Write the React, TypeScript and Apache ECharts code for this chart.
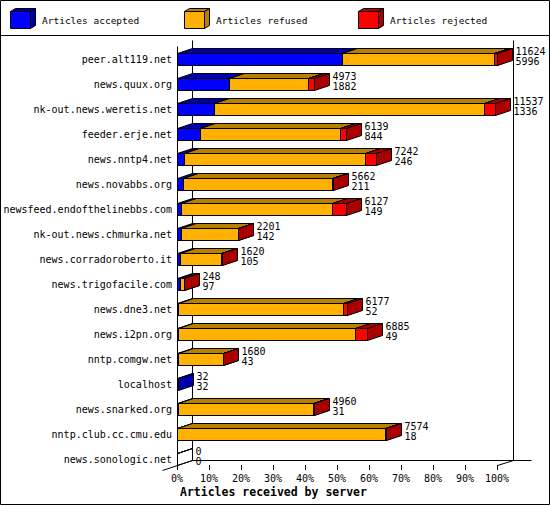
import React, { useEffect, useRef } from "react";
import * as echarts from "echarts";

const servers = [
  "peer.alt119.net",
  "news.quux.org",
  "nk-out.news.weretis.net",
  "feeder.erje.net",
  "news.nntp4.net",
  "news.novabbs.org",
  "newsfeed.endofthelinebbs.com",
  "nk-out.news.chmurka.net",
  "news.corradoroberto.it",
  "news.trigofacile.com",
  "news.dne3.net",
  "news.i2pn.org",
  "nntp.comgw.net",
  "localhost",
  "news.snarked.org",
  "nntp.club.cc.cmu.edu",
  "news.sonologic.net",
];
const offered = [11624, 4973, 11537, 6139, 7242, 5662, 6127, 2201, 1620, 248, 6177, 6885, 1680, 32, 4960, 7574, 0];
const accepted = [5996, 1882, 1336, 844, 246, 211, 149, 142, 105, 97, 52, 49, 43, 32, 31, 18, 0];
const refused = [5520, 2873, 9831, 5065, 6596, 5431, 5470, 2056, 1485, 149, 5980, 6425, 1632, 0, 4904, 7551, 0];
const rejected = [108, 218, 370, 230, 400, 20, 508, 3, 30, 2, 145, 411, 5, 0, 25, 5, 0];

const seriesNames = ["Articles accepted", "Articles refused", "Articles rejected"];
const frontColors = ["#0000ff", "#ffb000", "#ff0000"];
const darkColors = ["#0000aa", "#b88000", "#aa0000"];
const axisTitle = "Articles received by server";

const FONT = "'DejaVu Sans Mono', monospace";
const DX = 15;
const DY = 5;
const HALF = 6;

const px = (v: number) => Math.round(v) + 0.5;

export default function App() {
  const ref = useRef<HTMLDivElement>(null);

  useEffect(() => {
    if (!ref.current) return;
    const chart = echarts.init(ref.current, undefined, { renderer: "svg" });
    const parts = [accepted, refused, rejected];
    const maxOffered = Math.max(...offered);
    const last = parts.length - 1;

    const segData = parts.map((arr, k) =>
      arr.map((v, i) => {
        let start = 0;
        for (let j = 0; j < k; j++) start += parts[j][i];
        return [(start / maxOffered) * 100, ((start + v) / maxOffered) * 100, i];
      })
    );

    const stroke = { stroke: "#000", lineWidth: 1 };

    const makeRender = (k: number) => (_params: any, api: any) => {
      const i = api.value(2);
      const s = api.coord([api.value(0), i]);
      const e = api.coord([api.value(1), i]);
      const x1 = px(s[0]);
      const x2 = px(e[0]);
      const yc = Math.round(s[1]);
      const yt = yc - HALF + 0.5;
      const yb = yc + HALF + 0.5;
      const children: any[] = [];
      const val = parts[k][i];
      const empty = offered[i] === 0;
      const draw = val > 0 || (empty && k === last);
      if (draw) {
        const front = empty ? "none" : frontColors[k];
        const dark = empty ? "none" : darkColors[k];
        children.push({
          type: "rect",
          shape: { x: x1, y: yt, width: x2 - x1, height: yb - yt },
          style: { fill: front, ...stroke },
        });
        children.push({
          type: "polygon",
          shape: { points: [[x1, yt], [x1 + DX, yt - DY], [x2 + DX, yt - DY], [x2, yt]] },
          style: { fill: dark, ...stroke },
        });
        children.push({
          type: "polygon",
          shape: { points: [[x2, yt], [x2 + DX, yt - DY], [x2 + DX, yb - DY], [x2, yb]] },
          style: { fill: dark, ...stroke },
        });
      }
      if (k === last) {
        children.push({
          type: "text",
          style: {
            text: `${offered[i]}\n${accepted[i]}`,
            x: x2 + DX + 3,
            y: yc - 3,
            align: "left",
            verticalAlign: "middle",
            fontSize: 10,
            fontFamily: FONT,
            lineHeight: 10,
            fill: "#000",
          },
        });
      }
      return { type: "group", children };
    };

    const frameRender = (_params: any, api: any) => {
      const n = servers.length;
      const a = api.coord([0, 0]);
      const b = api.coord([100, n - 1]);
      const xa = px(a[0]);
      const xb = px(b[0]);
      const yFloor = Math.round(b[1]) + HALF + 0.5;
      const yTopFront = Math.round(a[1]) - 13 + 0.5;
      const yTopBack = Math.round(a[1]) - 19 + 0.5;
      const ln = (x1: number, y1: number, x2: number, y2: number) => ({
        type: "line",
        shape: { x1, y1, x2, y2 },
        style: { stroke: "#000", lineWidth: 1 },
      });
      return {
        type: "group",
        children: [
          ln(xa, yTopFront, xa, yFloor),
          ln(xa + DX, yTopBack, xa + DX, yFloor - DY),
          ln(xb + DX + 1, yTopBack, xb + DX + 1, yFloor - DY),
          ln(xa + DX, yFloor - DY, xb + DX + 19, yFloor - DY),
          ln(xa - DX, yFloor + DY, xa + DX, yFloor - DY),
          ln(xb, yFloor, xb + DX + 1, yFloor - DY),
        ],
      };
    };

    const legendX = [10, 184, 358];
    const legendGraphics: any[] = seriesNames.map((name, k) => {
      const x = legendX[k];
      return {
        type: "group",
        x,
        y: 0,
        children: [
          {
            type: "polygon",
            shape: { points: [[0.5, 11.5], [5.5, 8.5], [25.5, 8.5], [20.5, 11.5]] },
            style: { fill: darkColors[k], ...stroke },
          },
          {
            type: "polygon",
            shape: { points: [[20.5, 11.5], [25.5, 8.5], [25.5, 25.5], [20.5, 28.5]] },
            style: { fill: darkColors[k], ...stroke },
          },
          {
            type: "rect",
            shape: { x: 0.5, y: 11.5, width: 20, height: 17 },
            style: { fill: frontColors[k], ...stroke },
          },
          {
            type: "text",
            style: {
              text: name,
              x: 32,
              y: 20,
              verticalAlign: "middle",
              align: "left",
              fontSize: 9.5,
              fontFamily: FONT,
              fill: "#000",
            },
          },
        ],
      };
    });

    chart.setOption({
      animation: false,
      backgroundColor: "#fff",
      textStyle: { fontFamily: FONT, color: "#000" },
      grid: { left: 177, right: 53, top: 46.5, bottom: 33.5, outerBoundsMode: "none" },
      xAxis: {
        type: "value",
        min: 0,
        max: 100,
        interval: 10,
        offset: -6.5,
        axisLine: { show: false },
        axisTick: { show: true, length: 5, lineStyle: { color: "#000" } },
        splitLine: { show: false },
        axisLabel: {
          formatter: "{value}%",
          fontSize: 10,
          fontFamily: FONT,
          color: "#000",
          margin: 8,
        },
      },
      yAxis: {
        type: "category",
        inverse: true,
        data: servers,
        axisLine: { show: false },
        axisTick: { show: false },
        splitLine: { show: false },
        axisLabel: { fontSize: 10, fontFamily: FONT, color: "#000", margin: 5 },
      },
      graphic: [
        {
          type: "rect",
          shape: { x: 0.5, y: 0.5, width: 549, height: 504 },
          style: { fill: "none", stroke: "#000", lineWidth: 1 },
          z: 100,
        },
        {
          type: "line",
          shape: { x1: 0, y1: 35.5, x2: 550, y2: 35.5 },
          style: { stroke: "#000", lineWidth: 1 },
        },
        ...legendGraphics,
        {
          type: "text",
          style: {
            text: axisTitle,
            x: 180,
            y: 492,
            verticalAlign: "middle",
            align: "left",
            fontSize: 11.5,
            fontWeight: "bold",
            fontFamily: FONT,
            fill: "#000",
          },
        },
      ],
      series: [
        {
          type: "custom",
          name: "frame",
          silent: true,
          z: 1,
          data: [[0, 100, 0]],
          encode: { x: [0, 1], y: 2 },
          renderItem: frameRender,
        },
        ...seriesNames.map((name, k) => ({
          type: "custom",
          name,
          z: 2,
          data: segData[k],
          encode: { x: [0, 1], y: 2 },
          renderItem: makeRender(k),
        })),
      ],
    });

    return () => chart.dispose();
  }, []);

  return (
    <div
      ref={ref}
      style={{ position: "absolute", left: 0, top: 0, width: 550, height: 505, background: "#fff" }}
    />
  );
}
